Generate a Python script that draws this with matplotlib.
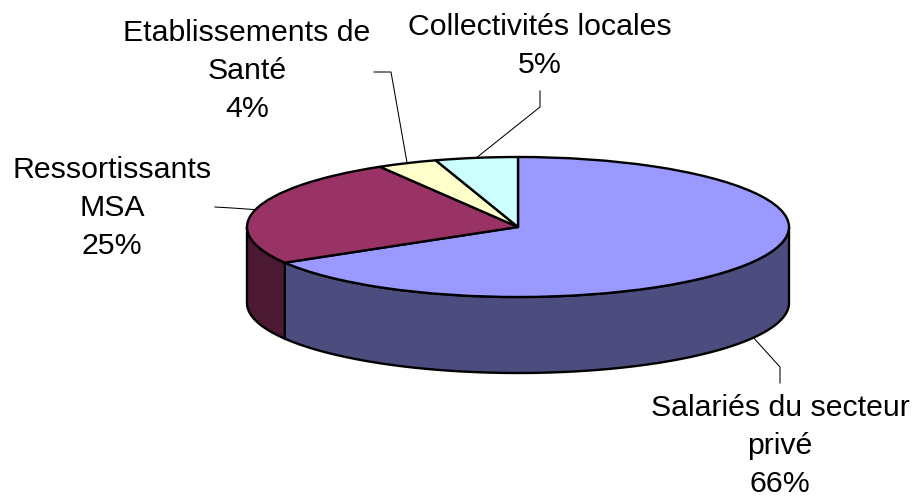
import numpy as np
import matplotlib
matplotlib.use("Agg")
import matplotlib.pyplot as plt

plt.rcParams['font.family'] = ['Liberation Sans', 'DejaVu Sans']

# Data
categories = ["Salariés du secteur\nprivé", "Ressortissants\nMSA", "Etablissements de\nSanté", "Collectivités locales"]
values = [66.49, 25.0, 3.6, 4.91]
top_colors = ['#9999FF', '#993366', '#FFFFCC', '#CCFFFF']
side_colors = ['#4C4C7F', '#4C1933', '#7F7F66', '#667F7F']

# Pixel layout of the pie
W, H = 915, 498
cx, cy = 518, 227
rx, ry = 271, 70
depth = 76 / ry


def px(x, y):
    return (x - cx) / rx, (cy - y) / ry


fig = plt.figure(figsize=(W / 100, H / 100), dpi=100)
ax = fig.add_axes([0, 0, 1, 1])

# Top face
ax.pie(values, colors=top_colors, startangle=90, counterclock=False, radius=1,
       wedgeprops=dict(edgecolor='black', linewidth=1.7, joinstyle='round', zorder=3))
ax.set_aspect('auto')
ax.set_xlim(px(0, 0)[0], px(W, 0)[0])
ax.set_ylim(px(0, H)[1], px(0, 0)[1])
ax.axis('off')

# Side wall, only the front half of the ellipse can be seen
ends = 90 - np.cumsum(values) * 3.6
starts = np.concatenate(([90], ends[:-1]))
for a1, a0, col in zip(starts, ends, side_colors):
    for shift in (0, 360):
        lo = max(a0 + shift, -180)
        hi = min(a1 + shift, 0)
        if hi <= lo:
            continue
        t = np.radians(np.linspace(lo, hi, 120))
        xs = np.cos(t)
        ys = np.sin(t)
        ax.fill(np.r_[xs, xs[::-1]], np.r_[ys, ys[::-1] - depth], facecolor=col,
                edgecolor='black', linewidth=1.7, zorder=2)

# Labels and leader lines
text_pos = [(780, 446), (112, 208), (247, 71), (540, 46)]
leaders = [[(780, 367), (780, 383)],
           [(232, 208), (215, 207)],
           [(391, 72), (374, 72)],
           [(540, 107), (540, 91)]]
mids = (starts + ends) / 2
for i, name in enumerate(categories):
    t = np.radians(mids[i])
    ax_x, ax_y = np.cos(t), np.sin(t)
    if np.sin(t) < 0:
        ax_y -= depth
    pts = [(ax_x, ax_y)] + [px(*p) for p in leaders[i]]
    ax.plot([p[0] for p in pts], [p[1] for p in pts], color='black', lw=0.75, zorder=1)
    tx, ty = px(*text_pos[i])
    ax.text(tx, ty, f"{name}\n{round(values[i])}%", ha='center', va='center',
            fontsize=21.8, linespacing=1.46, color='black')

fig.savefig('out.png', dpi=100)
